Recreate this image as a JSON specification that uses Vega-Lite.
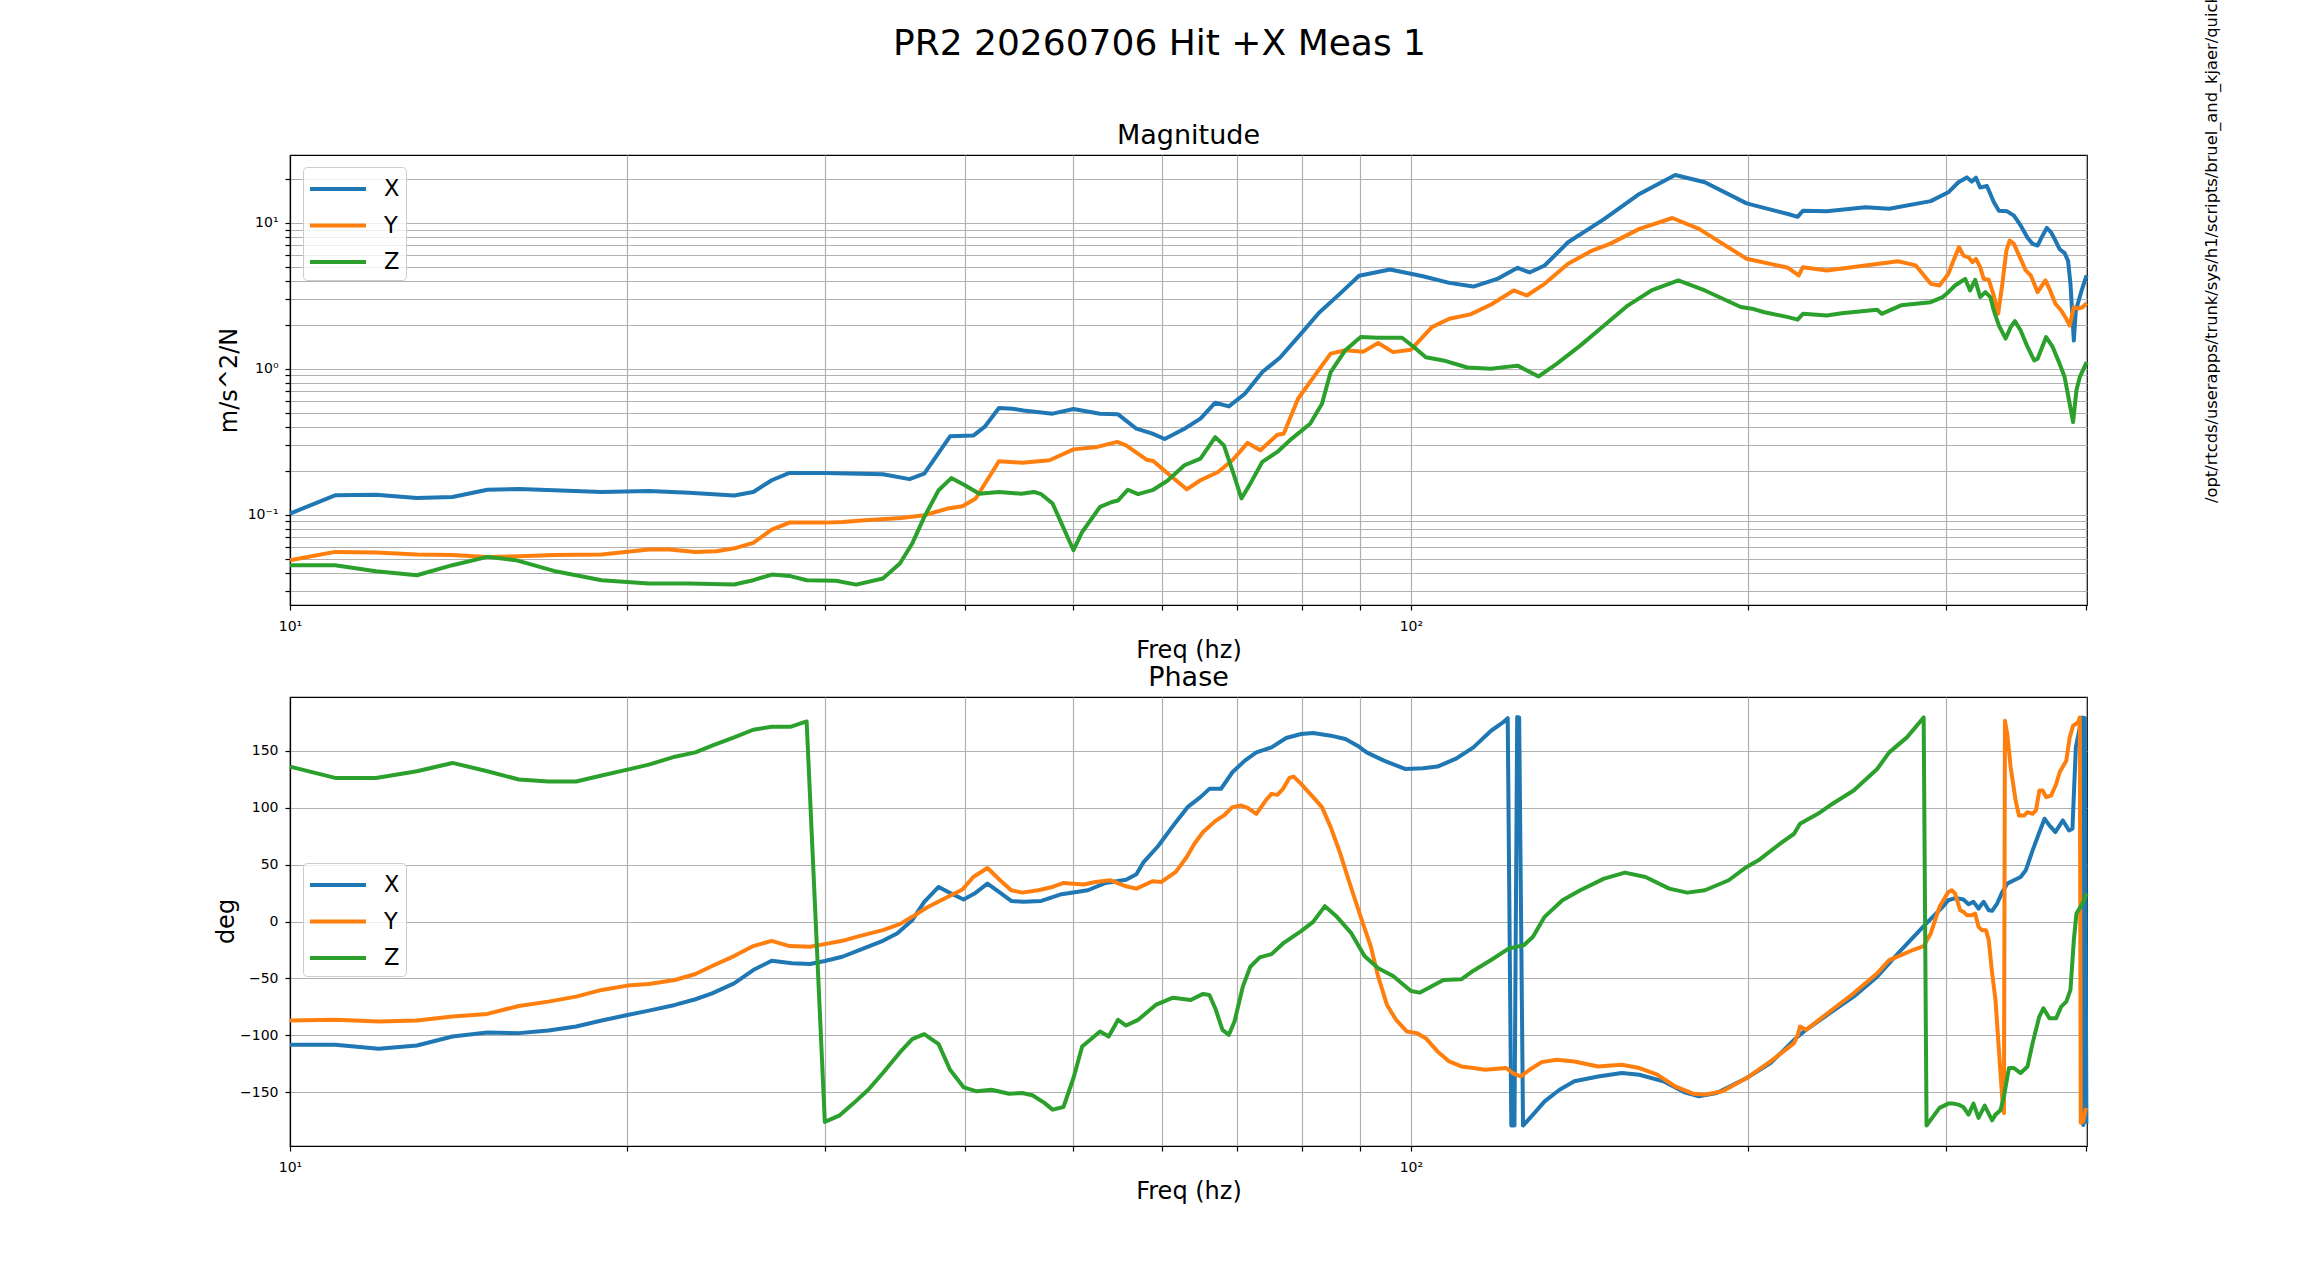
{
  "$schema": "https://vega.github.io/schema/vega-lite/v6.json",
  "autosize": {"type": "none"},
  "padding": {"left": 290, "top": 155, "right": 2029, "bottom": 1133},
  "background": "white",
  "config": {
    "font": "DejaVu Sans",
    "view": {"stroke": "#000000", "strokeWidth": 1.2},
    "axis": {"gridColor": "#b0b0b0", "gridWidth": 1.2, "gridOpacity": 1, "domainColor": "#000000", "domainWidth": 1.2, "tickColor": "#000000", "tickSize": 5, "tickWidth": 1.2, "labelColor": "#000000", "labelFont": "DejaVu Sans", "labelFontSize": 14, "titleFont": "DejaVu Sans", "titleFontSize": 24, "titleFontWeight": "normal", "titleColor": "#000000", "labelFlush": false, "labelOverlap": false, "labelBound": false},
    "legend": {"symbolType": "M-2,0L2,0", "symbolSize": 784, "symbolStrokeWidth": 4, "symbolOffset": 13, "labelOffset": 30, "labelFontSize": 22.5, "labelFont": "DejaVu Sans", "labelColor": "#000000", "rowPadding": 8.5, "padding": 6, "fillColor": "rgba(255,255,255,0.8)", "strokeColor": "#cccccc", "strokeWidth": 1, "cornerRadius": 4},
    "title": {"font": "DejaVu Sans", "fontWeight": "normal", "color": "#000000"}
  },
  "datasets": {
    "mag": [
      {"f":10,"s":"X","v":0.1016},{"f":10.97,"s":"X","v":0.1356},{"f":11.93,"s":"X","v":0.137},{"f":12.98,"s":"X","v":0.130},{"f":13.96,"s":"X","v":0.132},{"f":15.0,"s":"X","v":0.148},{"f":16.0,"s":"X","v":0.150},{"f":17.2,"s":"X","v":0.147},{"f":18.97,"s":"X","v":0.143},{"f":20.9,"s":"X","v":0.145},{"f":22.7,"s":"X","v":0.141},{"f":24.9,"s":"X","v":0.135},{"f":25.9,"s":"X","v":0.143},{"f":26.9,"s":"X","v":0.172},{"f":27.9,"s":"X","v":0.193},{"f":30,"s":"X","v":0.193},{"f":33.8,"s":"X","v":0.189},{"f":35.7,"s":"X","v":0.175},{"f":36.8,"s":"X","v":0.191},{"f":38.8,"s":"X","v":0.344},{"f":40.7,"s":"X","v":0.348},{"f":41.7,"s":"X","v":0.403},{"f":42.9,"s":"X","v":0.538},{"f":44.1,"s":"X","v":0.532},{"f":45.1,"s":"X","v":0.518},{"f":47.9,"s":"X","v":0.492},{"f":50.0,"s":"X","v":0.530},{"f":52.8,"s":"X","v":0.492},{"f":54.8,"s":"X","v":0.487},{"f":56.9,"s":"X","v":0.388},{"f":58.8,"s":"X","v":0.359},{"f":60.3,"s":"X","v":0.330},{"f":62.8,"s":"X","v":0.388},{"f":64.9,"s":"X","v":0.455},{"f":66.9,"s":"X","v":0.585},{"f":68.8,"s":"X","v":0.552},{"f":71.1,"s":"X","v":0.674},{"f":73.7,"s":"X","v":0.949},{"f":76.4,"s":"X","v":1.19},{"f":79.8,"s":"X","v":1.74},{"f":82.8,"s":"X","v":2.42},{"f":86.4,"s":"X","v":3.26},{"f":89.9,"s":"X","v":4.34},{"f":95.8,"s":"X","v":4.79},{"f":102.5,"s":"X","v":4.31},{"f":108.2,"s":"X","v":3.88},{"f":113.7,"s":"X","v":3.66},{"f":119.4,"s":"X","v":4.13},{"f":124.5,"s":"X","v":4.92},{"f":127.6,"s":"X","v":4.57},{"f":131.6,"s":"X","v":5.1},{"f":138.1,"s":"X","v":7.37},{"f":148.7,"s":"X","v":10.6},{"f":159.9,"s":"X","v":15.8},{"f":172.1,"s":"X","v":21.3},{"f":182.9,"s":"X","v":19.0},{"f":199.3,"s":"X","v":13.6},{"f":217.0,"s":"X","v":11.5},{"f":221.3,"s":"X","v":11.0},{"f":223.7,"s":"X","v":12.1},{"f":235.0,"s":"X","v":12.0},{"f":254.3,"s":"X","v":12.8},{"f":267.1,"s":"X","v":12.5},{"f":290.9,"s":"X","v":14.1},{"f":301.6,"s":"X","v":16.2},{"f":307.9,"s":"X","v":19.0},{"f":313.3,"s":"X","v":20.5},{"f":316.5,"s":"X","v":19.2},{"f":319.2,"s":"X","v":20.4},{"f":322.0,"s":"X","v":17.5},{"f":326.5,"s":"X","v":17.9},{"f":331.1,"s":"X","v":13.9},{"f":334.6,"s":"X","v":12.1},{"f":340.4,"s":"X","v":12.0},{"f":345.1,"s":"X","v":11.2},{"f":349.9,"s":"X","v":9.6},{"f":354.9,"s":"X","v":7.9},{"f":358.6,"s":"X","v":7.18},{"f":362.3,"s":"X","v":7.0},{"f":366.1,"s":"X","v":8.2},{"f":369.2,"s":"X","v":9.24},{"f":372.5,"s":"X","v":8.6},{"f":375.8,"s":"X","v":7.57},{"f":379.1,"s":"X","v":6.6},{"f":383.0,"s":"X","v":6.2},{"f":385.7,"s":"X","v":5.5},{"f":387.6,"s":"X","v":3.82},{"f":389.2,"s":"X","v":2.26},{"f":390.3,"s":"X","v":1.56},{"f":391.9,"s":"X","v":2.51},{"f":396.6,"s":"X","v":3.44},{"f":400.7,"s":"X","v":4.36},
      {"f":10,"s":"Y","v":0.0487},{"f":10.97,"s":"Y","v":0.0555},{"f":11.93,"s":"Y","v":0.0549},{"f":12.98,"s":"Y","v":0.0532},{"f":13.96,"s":"Y","v":0.0528},{"f":15.0,"s":"Y","v":0.0513},{"f":16.0,"s":"Y","v":0.0518},{"f":17.2,"s":"Y","v":0.0528},{"f":18.97,"s":"Y","v":0.0532},{"f":20.9,"s":"Y","v":0.0576},{"f":21.8,"s":"Y","v":0.0576},{"f":23.0,"s":"Y","v":0.0555},{"f":24.0,"s":"Y","v":0.056},{"f":25.0,"s":"Y","v":0.0591},{"f":25.9,"s":"Y","v":0.064},{"f":26.9,"s":"Y","v":0.0789},{"f":27.9,"s":"Y","v":0.0881},{"f":30,"s":"Y","v":0.0881},{"f":31.1,"s":"Y","v":0.089},{"f":32.6,"s":"Y","v":0.0915},{"f":35.1,"s":"Y","v":0.0948},{"f":36.8,"s":"Y","v":0.099},{"f":38.6,"s":"Y","v":0.110},{"f":39.8,"s":"Y","v":0.114},{"f":40.9,"s":"Y","v":0.129},{"f":42.9,"s":"Y","v":0.232},{"f":45.0,"s":"Y","v":0.227},{"f":47.6,"s":"Y","v":0.236},{"f":50.0,"s":"Y","v":0.280},{"f":52.5,"s":"Y","v":0.291},{"f":54.7,"s":"Y","v":0.315},{"f":55.7,"s":"Y","v":0.298},{"f":58.1,"s":"Y","v":0.238},{"f":58.9,"s":"Y","v":0.233},{"f":60.95,"s":"Y","v":0.186},{"f":63.1,"s":"Y","v":0.149},{"f":64.9,"s":"Y","v":0.172},{"f":67.3,"s":"Y","v":0.196},{"f":69.3,"s":"Y","v":0.236},{"f":71.5,"s":"Y","v":0.310},{"f":73.4,"s":"Y","v":0.276},{"f":76.0,"s":"Y","v":0.353},{"f":77.0,"s":"Y","v":0.358},{"f":79.3,"s":"Y","v":0.623},{"f":82.3,"s":"Y","v":0.925},{"f":84.8,"s":"Y","v":1.27},{"f":87.4,"s":"Y","v":1.34},{"f":90.7,"s":"Y","v":1.31},{"f":93.5,"s":"Y","v":1.50},{"f":96.4,"s":"Y","v":1.30},{"f":100,"s":"Y","v":1.35},{"f":104.4,"s":"Y","v":1.93},{"f":108.2,"s":"Y","v":2.20},{"f":113.0,"s":"Y","v":2.36},{"f":117.9,"s":"Y","v":2.76},{"f":123.5,"s":"Y","v":3.44},{"f":126.9,"s":"Y","v":3.18},{"f":131.6,"s":"Y","v":3.82},{"f":138.1,"s":"Y","v":5.24},{"f":145.1,"s":"Y","v":6.46},{"f":150.5,"s":"Y","v":7.18},{"f":159.9,"s":"Y","v":9.1},{"f":171.1,"s":"Y","v":10.8},{"f":180.7,"s":"Y","v":9.1},{"f":199.3,"s":"Y","v":5.67},{"f":217.0,"s":"Y","v":4.92},{"f":221.8,"s":"Y","v":4.36},{"f":223.7,"s":"Y","v":4.97},{"f":235.0,"s":"Y","v":4.72},{"f":254.3,"s":"Y","v":5.11},{"f":272.0,"s":"Y","v":5.46},{"f":282.1,"s":"Y","v":5.11},{"f":290.9,"s":"Y","v":3.82},{"f":296.2,"s":"Y","v":3.72},{"f":301.6,"s":"Y","v":4.47},{"f":304.8,"s":"Y","v":5.52},{"f":308.3,"s":"Y","v":6.81},{"f":311.1,"s":"Y","v":5.97},{"f":314.4,"s":"Y","v":5.8},{"f":317.0,"s":"Y","v":5.38},{"f":319.2,"s":"Y","v":5.66},{"f":322.0,"s":"Y","v":4.97},{"f":324.3,"s":"Y","v":4.13},{"f":327.7,"s":"Y","v":4.07},{"f":331.1,"s":"Y","v":3.18},{"f":334.1,"s":"Y","v":2.38},{"f":337.0,"s":"Y","v":3.82},{"f":339.8,"s":"Y","v":6.46},{"f":342.1,"s":"Y","v":7.57},{"f":345.1,"s":"Y","v":7.18},{"f":349.9,"s":"Y","v":5.66},{"f":353.6,"s":"Y","v":4.72},{"f":357.3,"s":"Y","v":4.36},{"f":362.3,"s":"Y","v":3.35},{"f":368.2,"s":"Y","v":4.03},{"f":371.2,"s":"Y","v":3.53},{"f":375.8,"s":"Y","v":2.79},{"f":380.3,"s":"Y","v":2.51},{"f":384.3,"s":"Y","v":2.20},{"f":387.0,"s":"Y","v":1.98},{"f":390.3,"s":"Y","v":2.64},{"f":393.7,"s":"Y","v":2.58},{"f":397.3,"s":"Y","v":2.64},{"f":400.7,"s":"Y","v":2.82},
      {"f":10,"s":"Z","v":0.045},{"f":10.97,"s":"Z","v":0.045},{"f":11.93,"s":"Z","v":0.0409},{"f":12.98,"s":"Z","v":0.0384},{"f":13.96,"s":"Z","v":0.045},{"f":15.0,"s":"Z","v":0.0513},{"f":15.9,"s":"Z","v":0.0487},{"f":17.2,"s":"Z","v":0.0411},{"f":18.97,"s":"Z","v":0.0355},{"f":20.9,"s":"Z","v":0.0337},{"f":22.7,"s":"Z","v":0.0337},{"f":24.9,"s":"Z","v":0.0332},{"f":25.9,"s":"Z","v":0.0355},{"f":26.9,"s":"Z","v":0.0388},{"f":27.9,"s":"Z","v":0.038},{"f":28.9,"s":"Z","v":0.0355},{"f":30.7,"s":"Z","v":0.0352},{"f":32.0,"s":"Z","v":0.0331},{"f":33.8,"s":"Z","v":0.0365},{"f":35.0,"s":"Z","v":0.0462},{"f":35.9,"s":"Z","v":0.0633},{"f":36.8,"s":"Z","v":0.0964},{"f":37.9,"s":"Z","v":0.147},{"f":38.9,"s":"Z","v":0.178},{"f":40.0,"s":"Z","v":0.159},{"f":41.2,"s":"Z","v":0.139},{"f":42.9,"s":"Z","v":0.143},{"f":44.9,"s":"Z","v":0.139},{"f":46.1,"s":"Z","v":0.143},{"f":46.8,"s":"Z","v":0.138},{"f":47.9,"s":"Z","v":0.119},{"f":50.0,"s":"Z","v":0.057},{"f":50.9,"s":"Z","v":0.076},{"f":52.8,"s":"Z","v":0.113},{"f":54.1,"s":"Z","v":0.122},{"f":54.8,"s":"Z","v":0.125},{"f":55.9,"s":"Z","v":0.148},{"f":57.1,"s":"Z","v":0.138},{"f":58.8,"s":"Z","v":0.147},{"f":60.6,"s":"Z","v":0.170},{"f":62.8,"s":"Z","v":0.218},{"f":64.9,"s":"Z","v":0.242},{"f":66.9,"s":"Z","v":0.340},{"f":68.1,"s":"Z","v":0.298},{"f":69.3,"s":"Z","v":0.201},{"f":70.6,"s":"Z","v":0.129},{"f":71.9,"s":"Z","v":0.163},{"f":73.7,"s":"Z","v":0.230},{"f":76.0,"s":"Z","v":0.269},{"f":78.3,"s":"Z","v":0.332},{"f":81.3,"s":"Z","v":0.420},{"f":83.3,"s":"Z","v":0.575},{"f":84.8,"s":"Z","v":0.949},{"f":87.4,"s":"Z","v":1.34},{"f":90.2,"s":"Z","v":1.65},{"f":93.5,"s":"Z","v":1.63},{"f":98.2,"s":"Z","v":1.63},{"f":100.6,"s":"Z","v":1.41},{"f":103.1,"s":"Z","v":1.20},{"f":106.9,"s":"Z","v":1.14},{"f":112.3,"s":"Z","v":1.02},{"f":117.9,"s":"Z","v":1.0},{"f":121.6,"s":"Z","v":1.03},{"f":124.5,"s":"Z","v":1.05},{"f":130.0,"s":"Z","v":0.886},{"f":134.9,"s":"Z","v":1.08},{"f":141.6,"s":"Z","v":1.44},{"f":148.7,"s":"Z","v":1.98},{"f":156.1,"s":"Z","v":2.71},{"f":163.9,"s":"Z","v":3.44},{"f":173.2,"s":"Z","v":4.03},{"f":182.9,"s":"Z","v":3.44},{"f":196.9,"s":"Z","v":2.65},{"f":201.5,"s":"Z","v":2.58},{"f":206.7,"s":"Z","v":2.44},{"f":217.0,"s":"Z","v":2.26},{"f":221.3,"s":"Z","v":2.17},{"f":223.7,"s":"Z","v":2.38},{"f":235.0,"s":"Z","v":2.32},{"f":242.2,"s":"Z","v":2.40},{"f":260.6,"s":"Z","v":2.54},{"f":263.0,"s":"Z","v":2.38},{"f":273.7,"s":"Z","v":2.72},{"f":290.9,"s":"Z","v":2.86},{"f":298.1,"s":"Z","v":3.10},{"f":301.6,"s":"Z","v":3.35},{"f":305.8,"s":"Z","v":3.72},{"f":309.0,"s":"Z","v":3.92},{"f":312.2,"s":"Z","v":4.13},{"f":315.4,"s":"Z","v":3.44},{"f":318.7,"s":"Z","v":4.07},{"f":322.0,"s":"Z","v":3.10},{"f":325.4,"s":"Z","v":3.35},{"f":328.8,"s":"Z","v":3.10},{"f":331.1,"s":"Z","v":2.51},{"f":334.6,"s":"Z","v":1.98},{"f":339.3,"s":"Z","v":1.61},{"f":342.8,"s":"Z","v":1.93},{"f":345.8,"s":"Z","v":2.12},{"f":349.9,"s":"Z","v":1.83},{"f":354.9,"s":"Z","v":1.41},{"f":359.8,"s":"Z","v":1.14},{"f":362.3,"s":"Z","v":1.17},{"f":368.7,"s":"Z","v":1.65},{"f":373.7,"s":"Z","v":1.41},{"f":379.1,"s":"Z","v":1.08},{"f":383.0,"s":"Z","v":0.877},{"f":387.0,"s":"Z","v":0.575},{"f":389.7,"s":"Z","v":0.431},{"f":392.4,"s":"Z","v":0.711},{"f":395.1,"s":"Z","v":0.877},{"f":400.7,"s":"Z","v":1.11}
    ],
    "ph": [
      {"f":10,"s":"X","v":-108.5},{"f":10.97,"s":"X","v":-108.5},{"f":12.0,"s":"X","v":-112.0},{"f":12.98,"s":"X","v":-109.1},{"f":13.96,"s":"X","v":-101.2},{"f":15.0,"s":"X","v":-97.7},{"f":16.0,"s":"X","v":-98.2},{"f":17.0,"s":"X","v":-95.9},{"f":18.0,"s":"X","v":-92.4},{"f":18.97,"s":"X","v":-87.1},{"f":20,"s":"X","v":-82.2},{"f":20.9,"s":"X","v":-78.4},{"f":22.05,"s":"X","v":-73.4},{"f":23.0,"s":"X","v":-68.4},{"f":23.8,"s":"X","v":-63.2},{"f":24.9,"s":"X","v":-54.4},{"f":25.9,"s":"X","v":-42.7},{"f":26.9,"s":"X","v":-34.5},{"f":28.05,"s":"X","v":-36.8},{"f":29.1,"s":"X","v":-37.4},{"f":30,"s":"X","v":-34.8},{"f":31.1,"s":"X","v":-31.0},{"f":32.2,"s":"X","v":-25.1},{"f":33.8,"s":"X","v":-17.0},{"f":34.8,"s":"X","v":-10.5},{"f":35.9,"s":"X","v":1.2},{"f":36.8,"s":"X","v":17.3},{"f":37.9,"s":"X","v":30.4},{"f":39.0,"s":"X","v":24.0},{"f":39.9,"s":"X","v":19.3},{"f":40.8,"s":"X","v":24.6},{"f":41.9,"s":"X","v":33.3},{"f":42.9,"s":"X","v":26.0},{"f":44.0,"s":"X","v":18.1},{"f":45.1,"s":"X","v":17.3},{"f":46.8,"s":"X","v":18.1},{"f":48.8,"s":"X","v":24.0},{"f":50.3,"s":"X","v":26.0},{"f":51.5,"s":"X","v":27.5},{"f":53.4,"s":"X","v":33.9},{"f":55.7,"s":"X","v":36.8},{"f":56.9,"s":"X","v":41.5},{"f":57.75,"s":"X","v":52.3},{"f":59.5,"s":"X","v":66.4},{"f":61.7,"s":"X","v":87.4},{"f":63.2,"s":"X","v":100.6},{"f":64.9,"s":"X","v":109.4},{"f":66.1,"s":"X","v":116.7},{"f":67.7,"s":"X","v":116.7},{"f":69.3,"s":"X","v":131.3},{"f":71.1,"s":"X","v":141.5},{"f":72.8,"s":"X","v":148.8},{"f":75.1,"s":"X","v":153.2},{"f":77.4,"s":"X","v":161.4},{"f":79.8,"s":"X","v":164.9},{"f":81.8,"s":"X","v":165.8},{"f":84.8,"s":"X","v":163.5},{"f":87.4,"s":"X","v":160.5},{"f":89.6,"s":"X","v":154.7},{"f":91.3,"s":"X","v":148.8},{"f":94.6,"s":"X","v":141.5},{"f":98.8,"s":"X","v":134.2},{"f":102.5,"s":"X","v":134.8},{"f":105.6,"s":"X","v":136.3},{"f":109.6,"s":"X","v":143.0},{"f":113.7,"s":"X","v":153.2},{"f":117.9,"s":"X","v":167.8},{"f":120.8,"s":"X","v":175.1},{"f":122.0,"s":"X","v":178.9},{"f":122.9,"s":"X","v":-179.5},{"f":123.7,"s":"X","v":-179.5},{"f":124.4,"s":"X","v":179.8},{"f":124.9,"s":"X","v":179.5},{"f":125.9,"s":"X","v":-179.5},{"f":128.5,"s":"X","v":-169.9},{"f":131.6,"s":"X","v":-158.2},{"f":135.7,"s":"X","v":-148.0},{"f":139.9,"s":"X","v":-140.6},{"f":146.9,"s":"X","v":-136.3},{"f":154.2,"s":"X","v":-133.3},{"f":159.9,"s":"X","v":-134.8},{"f":168.0,"s":"X","v":-140.6},{"f":175.4,"s":"X","v":-150.3},{"f":180.7,"s":"X","v":-153.8},{"f":187.4,"s":"X","v":-150.9},{"f":199.3,"s":"X","v":-137.7},{"f":209.3,"s":"X","v":-124.6},{"f":219.7,"s":"X","v":-104.1},{"f":225.2,"s":"X","v":-95.3},{"f":236.4,"s":"X","v":-80.7},{"f":248.3,"s":"X","v":-66.1},{"f":260.6,"s":"X","v":-48.5},{"f":273.7,"s":"X","v":-25.1},{"f":287.3,"s":"X","v":-3.2},{"f":298.1,"s":"X","v":12.9},{"f":301.6,"s":"X","v":18.7},{"f":304.8,"s":"X","v":20.2},{"f":307.9,"s":"X","v":20.2},{"f":311.1,"s":"X","v":19.3},{"f":314.4,"s":"X","v":15.2},{"f":317.6,"s":"X","v":17.3},{"f":320.9,"s":"X","v":11.4},{"f":324.3,"s":"X","v":17.3},{"f":327.7,"s":"X","v":9.9},{"f":330.0,"s":"X","v":9.4},{"f":333.4,"s":"X","v":15.8},{"f":337.0,"s":"X","v":26.0},{"f":340.4,"s":"X","v":33.3},{"f":345.1,"s":"X","v":36.3},{"f":349.9,"s":"X","v":39.2},{"f":353.6,"s":"X","v":45.0},{"f":358.6,"s":"X","v":62.6},{"f":362.3,"s":"X","v":74.3},{"f":367.5,"s":"X","v":90.4},{"f":371.2,"s":"X","v":84.5},{"f":375.8,"s":"X","v":78.7},{"f":381.6,"s":"X","v":88.9},{"f":386.5,"s":"X","v":80.1},{"f":389.2,"s":"X","v":81.6},{"f":391.9,"s":"X","v":153.2},{"f":395.1,"s":"X","v":170.8},{"f":397.3,"s":"X","v":179.5},{"f":397.9,"s":"X","v":-179.0},{"f":399.2,"s":"X","v":179.0},{"f":400.5,"s":"X","v":-178.0},
      {"f":10,"s":"Y","v":-87.1},{"f":10.97,"s":"Y","v":-86.5},{"f":12.0,"s":"Y","v":-88.0},{"f":12.98,"s":"Y","v":-87.1},{"f":13.96,"s":"Y","v":-83.6},{"f":15.0,"s":"Y","v":-81.3},{"f":16.0,"s":"Y","v":-74.3},{"f":17.0,"s":"Y","v":-70.5},{"f":18.0,"s":"Y","v":-66.1},{"f":18.97,"s":"Y","v":-60.2},{"f":20,"s":"Y","v":-56.4},{"f":20.9,"s":"Y","v":-55.0},{"f":22.05,"s":"Y","v":-51.5},{"f":23.0,"s":"Y","v":-46.2},{"f":23.8,"s":"Y","v":-39.2},{"f":24.9,"s":"Y","v":-30.4},{"f":25.9,"s":"Y","v":-21.6},{"f":26.9,"s":"Y","v":-17.0},{"f":27.9,"s":"Y","v":-21.6},{"f":29.1,"s":"Y","v":-22.2},{"f":30,"s":"Y","v":-19.9},{"f":31.1,"s":"Y","v":-17.0},{"f":32.2,"s":"Y","v":-12.9},{"f":33.8,"s":"Y","v":-7.6},{"f":35.0,"s":"Y","v":-2.3},{"f":35.9,"s":"Y","v":4.1},{"f":37.0,"s":"Y","v":12.3},{"f":38.6,"s":"Y","v":21.6},{"f":39.8,"s":"Y","v":28.1},{"f":40.7,"s":"Y","v":39.2},{"f":41.9,"s":"Y","v":47.1},{"f":43.0,"s":"Y","v":36.3},{"f":44.0,"s":"Y","v":27.5},{"f":45.0,"s":"Y","v":25.4},{"f":46.5,"s":"Y","v":27.5},{"f":47.9,"s":"Y","v":30.4},{"f":49.0,"s":"Y","v":33.9},{"f":50,"s":"Y","v":33.3},{"f":51.05,"s":"Y","v":32.5},{"f":52.3,"s":"Y","v":34.8},{"f":53.9,"s":"Y","v":36.3},{"f":55.7,"s":"Y","v":31.0},{"f":56.9,"s":"Y","v":28.9},{"f":58.8,"s":"Y","v":35.4},{"f":59.9,"s":"Y","v":34.8},{"f":61.7,"s":"Y","v":43.6},{"f":63.1,"s":"Y","v":56.7},{"f":64.1,"s":"Y","v":68.4},{"f":65.25,"s":"Y","v":78.7},{"f":66.9,"s":"Y","v":88.3},{"f":68.1,"s":"Y","v":93.3},{"f":69.3,"s":"Y","v":100.6},{"f":70.6,"s":"Y","v":102.0},{"f":71.5,"s":"Y","v":100.0},{"f":72.8,"s":"Y","v":94.7},{"f":74.2,"s":"Y","v":106.4},{"f":75.1,"s":"Y","v":112.3},{"f":76.0,"s":"Y","v":111.4},{"f":76.9,"s":"Y","v":116.7},{"f":77.9,"s":"Y","v":126.3},{"f":78.6,"s":"Y","v":127.5},{"f":79.8,"s":"Y","v":121.1},{"f":81.8,"s":"Y","v":109.4},{"f":83.3,"s":"Y","v":100.6},{"f":84.8,"s":"Y","v":83.0},{"f":86.4,"s":"Y","v":61.1},{"f":88.0,"s":"Y","v":36.3},{"f":90.2,"s":"Y","v":4.1},{"f":92.1,"s":"Y","v":-22.2},{"f":93.5,"s":"Y","v":-48.5},{"f":95.2,"s":"Y","v":-73.4},{"f":97.0,"s":"Y","v":-86.5},{"f":99.2,"s":"Y","v":-96.8},{"f":101.2,"s":"Y","v":-98.2},{"f":103.1,"s":"Y","v":-102.6},{"f":105.6,"s":"Y","v":-114.3},{"f":108.2,"s":"Y","v":-123.1},{"f":110.9,"s":"Y","v":-127.5},{"f":113.7,"s":"Y","v":-128.9},{"f":116.5,"s":"Y","v":-130.4},{"f":119.4,"s":"Y","v":-129.5},{"f":121.6,"s":"Y","v":-128.9},{"f":123.5,"s":"Y","v":-133.9},{"f":125.3,"s":"Y","v":-136.3},{"f":127.6,"s":"Y","v":-130.4},{"f":130.8,"s":"Y","v":-123.7},{"f":134.9,"s":"Y","v":-121.6},{"f":139.9,"s":"Y","v":-123.1},{"f":146.9,"s":"Y","v":-127.5},{"f":154.2,"s":"Y","v":-126.0},{"f":159.9,"s":"Y","v":-128.9},{"f":165.9,"s":"Y","v":-134.8},{"f":172.1,"s":"Y","v":-145.0},{"f":178.5,"s":"Y","v":-151.5},{"f":182.9,"s":"Y","v":-152.3},{"f":189.7,"s":"Y","v":-149.4},{"f":199.3,"s":"Y","v":-137.7},{"f":209.3,"s":"Y","v":-123.1},{"f":219.7,"s":"Y","v":-107.0},{"f":221.5,"s":"Y","v":-99.0},{"f":222.4,"s":"Y","v":-92.4},{"f":225.2,"s":"Y","v":-95.3},{"f":236.4,"s":"Y","v":-79.2},{"f":248.3,"s":"Y","v":-63.2},{"f":260.6,"s":"Y","v":-45.6},{"f":267.1,"s":"Y","v":-33.9},{"f":273.7,"s":"Y","v":-29.5},{"f":280.4,"s":"Y","v":-25.1},{"f":286.7,"s":"Y","v":-21.6},{"f":290.9,"s":"Y","v":-10.5},{"f":296.2,"s":"Y","v":12.9},{"f":301.6,"s":"Y","v":26.0},{"f":303.7,"s":"Y","v":27.5},{"f":305.8,"s":"Y","v":24.6},{"f":309.0,"s":"Y","v":9.9},{"f":311.1,"s":"Y","v":8.5},{"f":313.3,"s":"Y","v":5.6},{"f":316.5,"s":"Y","v":5.6},{"f":318.7,"s":"Y","v":7.0},{"f":320.9,"s":"Y","v":-4.7},{"f":323.2,"s":"Y","v":-7.6},{"f":325.9,"s":"Y","v":-7.6},{"f":327.7,"s":"Y","v":-16.4},{"f":330.0,"s":"Y","v":-45.6},{"f":332.3,"s":"Y","v":-69.0},{"f":334.6,"s":"Y","v":-112.9},{"f":337.0,"s":"Y","v":-156.7},{"f":338.1,"s":"Y","v":-168.4},{"f":338.8,"s":"Y","v":176.6},{"f":340.4,"s":"Y","v":164.9},{"f":342.8,"s":"Y","v":135.7},{"f":346.3,"s":"Y","v":106.4},{"f":348.7,"s":"Y","v":93.3},{"f":352.4,"s":"Y","v":93.3},{"f":354.9,"s":"Y","v":96.2},{"f":358.6,"s":"Y","v":94.7},{"f":361.1,"s":"Y","v":97.7},{"f":363.6,"s":"Y","v":115.2},{"f":366.1,"s":"Y","v":115.2},{"f":368.7,"s":"Y","v":109.4},{"f":372.5,"s":"Y","v":110.8},{"f":376.4,"s":"Y","v":121.0},{"f":379.1,"s":"Y","v":131.3},{"f":384.3,"s":"Y","v":141.5},{"f":387.0,"s":"Y","v":162.0},{"f":389.7,"s":"Y","v":172.2},{"f":393.7,"s":"Y","v":175.1},{"f":395.1,"s":"Y","v":179.5},{"f":395.9,"s":"Y","v":-177.0},{"f":397.9,"s":"Y","v":-175.7},{"f":400.1,"s":"Y","v":-164.0},
      {"f":10,"s":"Z","v":136.3},{"f":10.97,"s":"Z","v":126.3},{"f":11.93,"s":"Z","v":126.3},{"f":12.98,"s":"Z","v":132.2},{"f":13.96,"s":"Z","v":139.5},{"f":15.0,"s":"Z","v":132.2},{"f":16.0,"s":"Z","v":124.9},{"f":17.0,"s":"Z","v":123.1},{"f":18.0,"s":"Z","v":123.1},{"f":18.97,"s":"Z","v":128.4},{"f":20,"s":"Z","v":133.6},{"f":20.9,"s":"Z","v":138.0},{"f":22.05,"s":"Z","v":145.0},{"f":23.0,"s":"Z","v":148.8},{"f":23.8,"s":"Z","v":154.7},{"f":24.9,"s":"Z","v":162.0},{"f":25.9,"s":"Z","v":168.7},{"f":26.9,"s":"Z","v":171.3},{"f":27.95,"s":"Z","v":171.3},{"f":28.9,"s":"Z","v":176.0},{"f":30.0,"s":"Z","v":-176.3},{"f":30.9,"s":"Z","v":-170.8},{"f":31.8,"s":"Z","v":-160.2},{"f":32.8,"s":"Z","v":-148.0},{"f":33.8,"s":"Z","v":-133.3},{"f":35.0,"s":"Z","v":-115.2},{"f":35.9,"s":"Z","v":-103.5},{"f":36.8,"s":"Z","v":-99.1},{"f":37.9,"s":"Z","v":-107.9},{"f":38.8,"s":"Z","v":-130.4},{"f":39.9,"s":"Z","v":-145.9},{"f":41.0,"s":"Z","v":-149.4},{"f":42.25,"s":"Z","v":-148.0},{"f":43.8,"s":"Z","v":-151.5},{"f":45.0,"s":"Z","v":-150.9},{"f":45.95,"s":"Z","v":-152.9},{"f":47.1,"s":"Z","v":-159.6},{"f":47.9,"s":"Z","v":-165.5},{"f":48.98,"s":"Z","v":-163.2},{"f":50,"s":"Z","v":-137.7},{"f":50.9,"s":"Z","v":-109.9},{"f":52.8,"s":"Z","v":-96.8},{"f":53.75,"s":"Z","v":-101.2},{"f":54.8,"s":"Z","v":-86.5},{"f":55.7,"s":"Z","v":-91.5},{"f":57.1,"s":"Z","v":-86.5},{"f":59.2,"s":"Z","v":-73.4},{"f":61.35,"s":"Z","v":-67.0},{"f":63.6,"s":"Z","v":-69.0},{"f":65.25,"s":"Z","v":-63.7},{"f":66.1,"s":"Z","v":-64.6},{"f":66.9,"s":"Z","v":-76.3},{"f":67.9,"s":"Z","v":-95.3},{"f":68.8,"s":"Z","v":-99.7},{"f":69.6,"s":"Z","v":-88.0},{"f":70.8,"s":"Z","v":-57.3},{"f":71.9,"s":"Z","v":-39.8},{"f":73.3,"s":"Z","v":-31.6},{"f":75.1,"s":"Z","v":-28.7},{"f":76.9,"s":"Z","v":-19.3},{"f":79.8,"s":"Z","v":-8.5},{"f":81.8,"s":"Z","v":-0.3},{"f":83.8,"s":"Z","v":13.5},{"f":85.9,"s":"Z","v":4.1},{"f":88.5,"s":"Z","v":-10.5},{"f":90.9,"s":"Z","v":-30.4},{"f":93.5,"s":"Z","v":-41.2},{"f":96.4,"s":"Z","v":-48.0},{"f":100,"s":"Z","v":-61.1},{"f":101.8,"s":"Z","v":-62.6},{"f":106.9,"s":"Z","v":-51.5},{"f":110.9,"s":"Z","v":-50.9},{"f":113.7,"s":"Z","v":-43.3},{"f":117.9,"s":"Z","v":-33.9},{"f":122.3,"s":"Z","v":-23.7},{"f":126.1,"s":"Z","v":-20.8},{"f":128.5,"s":"Z","v":-13.5},{"f":131.6,"s":"Z","v":4.1},{"f":136.5,"s":"Z","v":18.7},{"f":141.6,"s":"Z","v":27.5},{"f":148.7,"s":"Z","v":37.7},{"f":155.2,"s":"Z","v":43.0},{"f":161.9,"s":"Z","v":39.2},{"f":170.0,"s":"Z","v":28.9},{"f":176.4,"s":"Z","v":25.4},{"f":182.9,"s":"Z","v":27.5},{"f":192.1,"s":"Z","v":36.3},{"f":199.3,"s":"Z","v":48.0},{"f":204.2,"s":"Z","v":53.8},{"f":214.4,"s":"Z","v":69.9},{"f":219.7,"s":"Z","v":77.2},{"f":222.4,"s":"Z","v":86.0},{"f":230.7,"s":"Z","v":94.7},{"f":236.4,"s":"Z","v":102.0},{"f":248.3,"s":"Z","v":115.2},{"f":260.6,"s":"Z","v":134.2},{"f":267.1,"s":"Z","v":148.8},{"f":277.0,"s":"Z","v":162.0},{"f":286.7,"s":"Z","v":179.5},{"f":288.4,"s":"Z","v":-179.5},{"f":296.2,"s":"Z","v":-164.0},{"f":301.6,"s":"Z","v":-160.2},{"f":304.8,"s":"Z","v":-160.2},{"f":307.9,"s":"Z","v":-161.1},{"f":311.1,"s":"Z","v":-163.2},{"f":314.4,"s":"Z","v":-169.9},{"f":317.6,"s":"Z","v":-160.2},{"f":320.9,"s":"Z","v":-172.8},{"f":325.0,"s":"Z","v":-162.0},{"f":330.0,"s":"Z","v":-174.9},{"f":332.3,"s":"Z","v":-169.9},{"f":335.7,"s":"Z","v":-166.1},{"f":338.1,"s":"Z","v":-153.8},{"f":341.6,"s":"Z","v":-128.9},{"f":345.1,"s":"Z","v":-128.9},{"f":349.9,"s":"Z","v":-133.3},{"f":354.9,"s":"Z","v":-127.5},{"f":358.6,"s":"Z","v":-107.0},{"f":363.6,"s":"Z","v":-83.6},{"f":366.7,"s":"Z","v":-76.3},{"f":371.2,"s":"Z","v":-85.1},{"f":376.4,"s":"Z","v":-85.1},{"f":380.3,"s":"Z","v":-74.9},{"f":384.3,"s":"Z","v":-70.5},{"f":387.6,"s":"Z","v":-60.2},{"f":390.3,"s":"Z","v":-16.4},{"f":392.4,"s":"Z","v":7.0},{"f":397.3,"s":"Z","v":15.8},{"f":400.7,"s":"Z","v":24.6}
    ]
  },
  "title": {"text": "/opt/rtcds/userapps/trunk/sys/h1/scripts/bruel_and_kjaer/quick", "fontSize": 16.3, "frame": "group", "anchor": "start", "orient": "right", "offset": 106, "angle": 270, "align": "left", "baseline": "middle", "dx": -348, "dy": 0},
  "bounds": "flush",
  "vconcat": [
    {
      "title": {"text": "PR2 20260706 Hit +X Meas 1", "fontSize": 36, "frame": "group", "anchor": "middle", "align": "center", "offset": 41, "baseline": "middle", "dx": 869.5},
      "bounds": "flush",
      "spacing": 92,
      "resolve": {"legend": {"color": "independent"}},
      "vconcat": [
        {
          "title": {"text": "Magnitude", "fontSize": 27, "frame": "group", "anchor": "middle", "offset": -8, "baseline": "middle"},
          "width": 1797,
          "height": 450,
          "data": {"name": "mag"},
          "mark": {"type": "line", "strokeWidth": 4, "strokeJoin": "round"},
          "encoding": {
            "x": {"field": "f", "type": "quantitative", "scale": {"type": "log", "domain": [10, 401], "nice": false, "zero": false},
                  "axis": {"values": [10,20,30,40,50,60,70,80,90,100,200,300,400], "labelExpr": "datum.value == 10 ? '10¹' : (datum.value == 100 ? '10²' : '')", "title": "Freq (hz)", "titleY": 45, "titleBaseline": "middle", "labelPadding": 9, "grid": true}},
            "y": {"field": "v", "type": "quantitative", "scale": {"type": "log", "domain": [0.024, 29.2], "nice": false},
                  "axis": {"values": [0.03,0.04,0.05,0.06,0.07,0.08,0.09,0.1,0.2,0.3,0.4,0.5,0.6,0.7,0.8,0.9,1,2,3,4,5,6,7,8,9,10,20], "labelExpr": "datum.value == 10 ? '10¹' : (datum.value == 1 ? '10⁰' : (datum.value == 0.1 ? '10⁻¹' : ''))", "title": "m/s^2/N", "titleX": -61, "titleY": 225, "titleAngle": 270, "titleAlign": "center", "titleBaseline": "middle", "labelPadding": 7, "grid": true}},
            "color": {"field": "s", "type": "nominal", "scale": {"domain": ["X","Y","Z"], "range": ["#1f77b4","#ff7f0e","#2ca02c"]}, "legend": {"orient": "none", "legendX": 13, "legendY": 12, "title": null}}
          }
        },
        {
          "title": {"text": "Phase", "fontSize": 27, "frame": "group", "anchor": "middle", "offset": -8, "baseline": "middle"},
          "width": 1797,
          "height": 449,
          "data": {"name": "ph"},
          "mark": {"type": "line", "strokeWidth": 4, "strokeJoin": "round"},
          "encoding": {
            "x": {"field": "f", "type": "quantitative", "scale": {"type": "log", "domain": [10, 401], "nice": false, "zero": false},
                  "axis": {"values": [10,20,30,40,50,60,70,80,90,100,200,300,400], "labelExpr": "datum.value == 10 ? '10¹' : (datum.value == 100 ? '10²' : '')", "title": "Freq (hz)", "titleY": 45, "titleBaseline": "middle", "labelPadding": 9, "grid": true}},
            "y": {"field": "v", "type": "quantitative", "scale": {"domain": [-197.5, 197.5], "nice": false, "zero": false},
                  "axis": {"values": [-150,-100,-50,0,50,100,150], "title": "deg", "titleX": -64, "titleY": 224, "titleAngle": 270, "titleAlign": "center", "titleBaseline": "middle", "labelPadding": 7, "grid": true}},
            "color": {"field": "s", "type": "nominal", "scale": {"domain": ["X","Y","Z"], "range": ["#1f77b4","#ff7f0e","#2ca02c"]}, "legend": {"orient": "none", "legendX": 13, "legendY": 166, "title": null}}
          }
        }
      ]
    }
  ]
}
